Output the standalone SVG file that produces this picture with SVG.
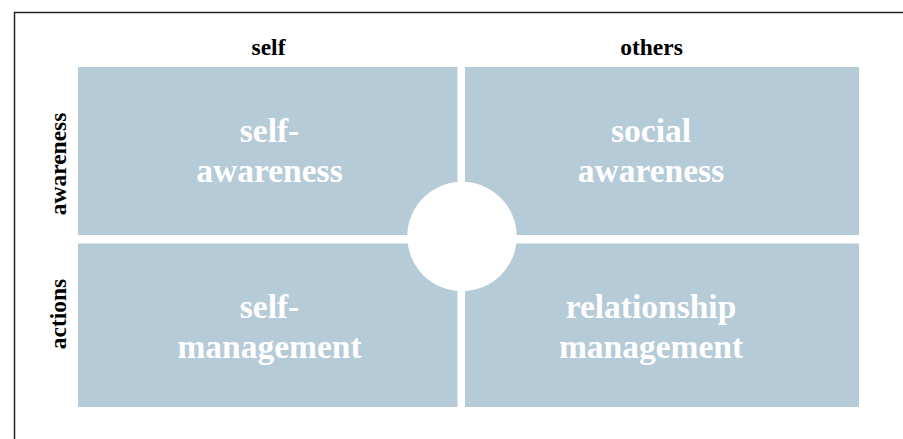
<svg xmlns="http://www.w3.org/2000/svg" width="903" height="439" viewBox="0 0 903 439">
<style>
.q{fill:#b5cbd7}
.qt{font-family:"Liberation Serif","Times New Roman",serif;font-weight:bold;font-size:33.5px;fill:#ffffff;text-anchor:middle}
.h{font-family:"Liberation Serif","Times New Roman",serif;font-weight:bold;font-size:23.5px;fill:#000000;text-anchor:middle}
</style>
<rect x="0" y="0" width="903" height="439" fill="#ffffff"/>
<path d="M14.5,439 V12.5 H903" fill="none" stroke="#222222" stroke-width="1.5"/>
<g id="header-self"><text class="h" x="268.5" y="55">self</text></g>
<g id="header-others"><text class="h" x="651.5" y="55">others</text></g>
<g id="row-awareness"><text class="h" transform="translate(66,164) rotate(-90)">awareness</text></g>
<g id="row-actions"><text class="h" transform="translate(66,314) rotate(-90)">actions</text></g>
<g id="self-awareness">
<rect class="q" x="78" y="67" width="379.5" height="168"/>
<text class="qt" x="269.5" y="142">self-</text>
<text class="qt" x="269.5" y="182">awareness</text>
</g>
<g id="social-awareness">
<rect class="q" x="465" y="67" width="394" height="168"/>
<text class="qt" x="651" y="142">social</text>
<text class="qt" x="651" y="182">awareness</text>
</g>
<g id="self-management">
<rect class="q" x="78" y="243.5" width="379.5" height="163.5"/>
<text class="qt" x="269.5" y="318">self-</text>
<text class="qt" x="269.5" y="358">management</text>
</g>
<g id="relationship-management">
<rect class="q" x="465" y="243.5" width="394" height="163.5"/>
<text class="qt" x="651" y="318">relationship</text>
<text class="qt" x="651" y="358">management</text>
</g>
<g id="center"><circle cx="462" cy="236.5" r="54.7" fill="#ffffff"/></g>
</svg>
